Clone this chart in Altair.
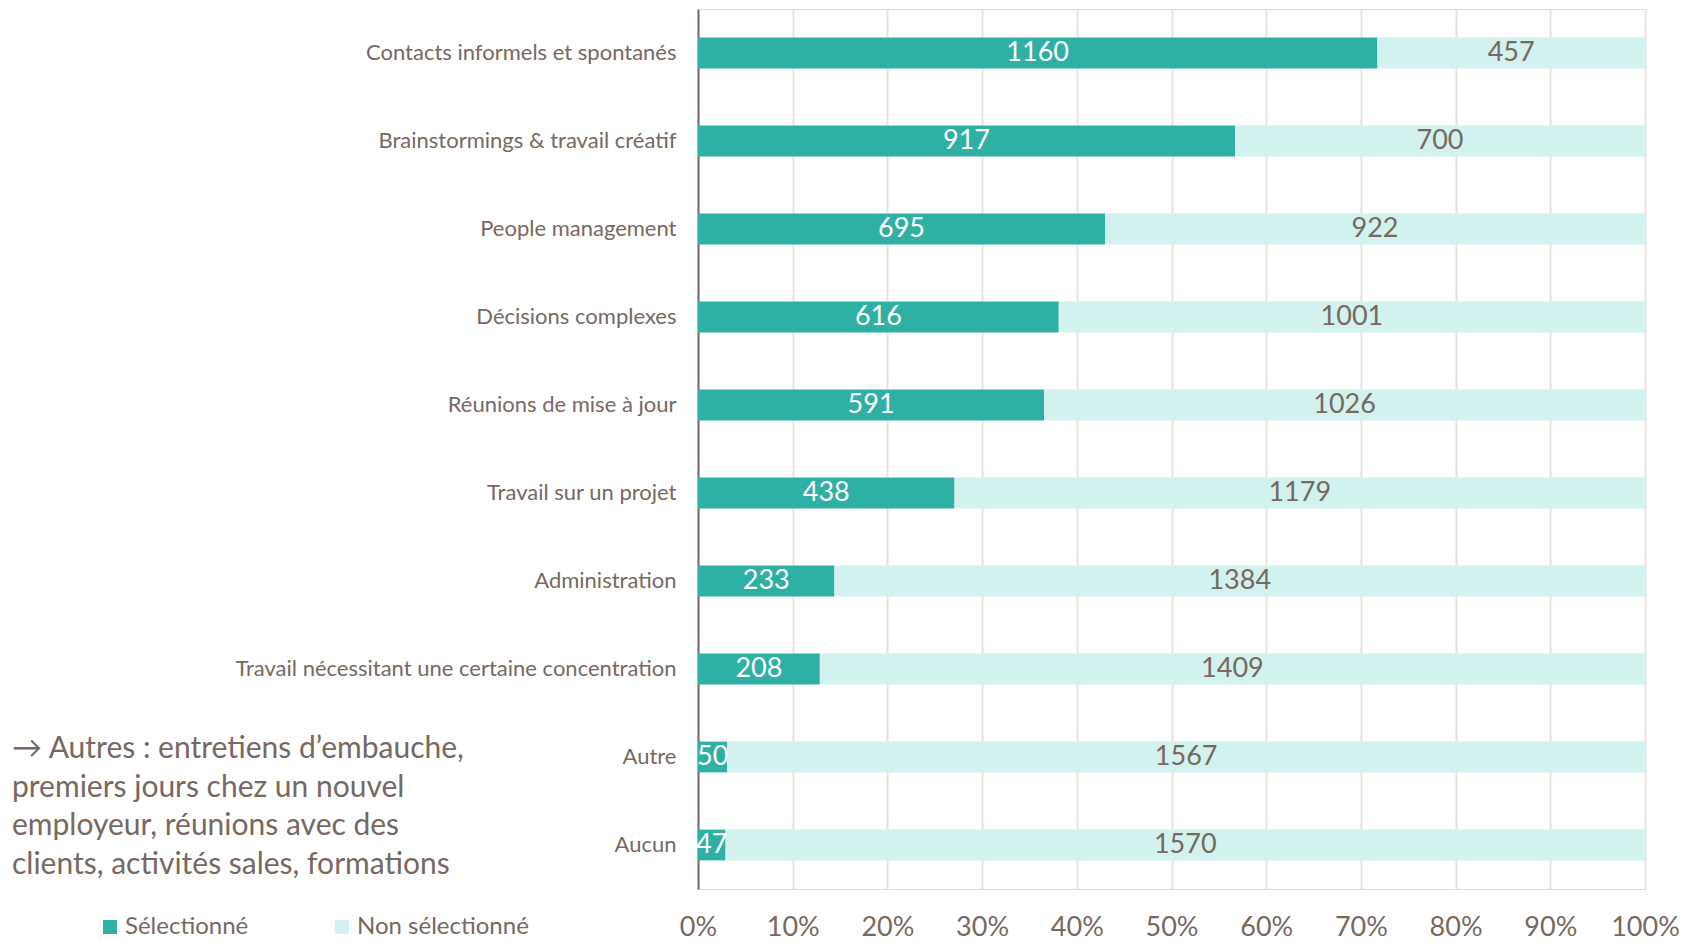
import altair as alt
import pandas as pd

categories = [
    "Contacts informels et spontanés",
    "Brainstormings & travail créatif",
    "People management",
    "Décisions complexes",
    "Réunions de mise à jour",
    "Travail sur un projet",
    "Administration",
    "Travail nécessitant une certaine concentration",
    "Autre",
    "Aucun",
]
selected = [1160, 917, 695, 616, 591, 438, 233, 208, 50, 47]
not_selected = [457, 700, 922, 1001, 1026, 1179, 1384, 1409, 1567, 1570]
series = ["Sélectionné", "Non sélectionné"]
colors = ["#2EB0A5", "#D1F2EE"]
annotation = "→ Autres : entretiens d’embauche,\npremiers jours chez un nouvel\nemployeur, réunions avec des\nclients, activités sales, formations"

rows = []
for c, s, n in zip(categories, selected, not_selected):
    rows.append({"cat": c, "status": series[0], "order": 0, "count": s})
    rows.append({"cat": c, "status": series[1], "order": 1, "count": n})
df = pd.DataFrame(rows)

FONT = "Lato"
TXT = "#786860"

base = alt.Chart(df).transform_stack(
    stack="count", groupby=["cat"], as_=["x0", "x1"], offset="normalize",
    sort=[alt.SortField("order", order="ascending")]
).transform_calculate(mid="(datum.x0 + datum.x1) / 2")

y_enc = alt.Y("cat:N", sort=categories, title=None,
              scale=alt.Scale(paddingInner=0.65, paddingOuter=0.325),
              axis=alt.Axis(labelFontSize=22, labelColor=TXT, labelFont=FONT,
                            labelPadding=22, ticks=False, domainColor="#7B6A62",
                            domainWidth=2, labelLimit=700))

bars = base.mark_bar().encode(
    x=alt.X("x0:Q", title=None, scale=alt.Scale(domain=[0, 1]),
            axis=alt.Axis(format="%", values=[i / 10 for i in range(11)],
                          labelFontSize=27, labelColor=TXT, labelFont=FONT,
                          labelPadding=25, ticks=False, domain=False,
                          labelFlush=False, labelOverlap=False,
                          grid=True, gridColor="#E9E2DD", gridWidth=2)),
    x2="x1:Q",
    y=y_enc,
    color=alt.Color("status:N", scale=alt.Scale(domain=series, range=colors),
                    sort=series,
                    legend=alt.Legend(title=None, orient="none", direction="horizontal",
                                      legendX=-600, legendY=906, symbolType="square",
                                      symbolSize=196, symbolStrokeWidth=0,
                                      symbolOpacity=1, labelFontSize=24,
                                      labelColor=TXT, labelFont=FONT, labelLimit=400,
                                      columnPadding=81, labelOffset=3)),
)

labels = base.mark_text(fontSize=27, font=FONT, align="center", baseline="middle").encode(
    x=alt.X("mid:Q"),
    y=alt.Y("cat:N", sort=categories),
    text=alt.Text("count:Q"),
    color=alt.condition("datum.status == 'Sélectionné'", alt.value("white"), alt.value(TXT)),
)

note = alt.Chart(pd.DataFrame({"t": [annotation]})).mark_text(
    align="left", baseline="middle", fontSize=30, font=FONT, color=TXT,
    lineBreak="\n", lineHeight=38.5
).encode(x=alt.value(-686), y=alt.value(740), text="t:N")

chart = alt.layer(bars, labels, note).properties(
    width=947, height=880,
    autosize=alt.AutoSizeParams(type="none"),
    padding={"left": 690, "top": 1, "right": 40, "bottom": 53},
).configure_view(stroke=None).configure(background="white")

chart.save("out.html", embed_options={"renderer": "svg", "actions": False})
